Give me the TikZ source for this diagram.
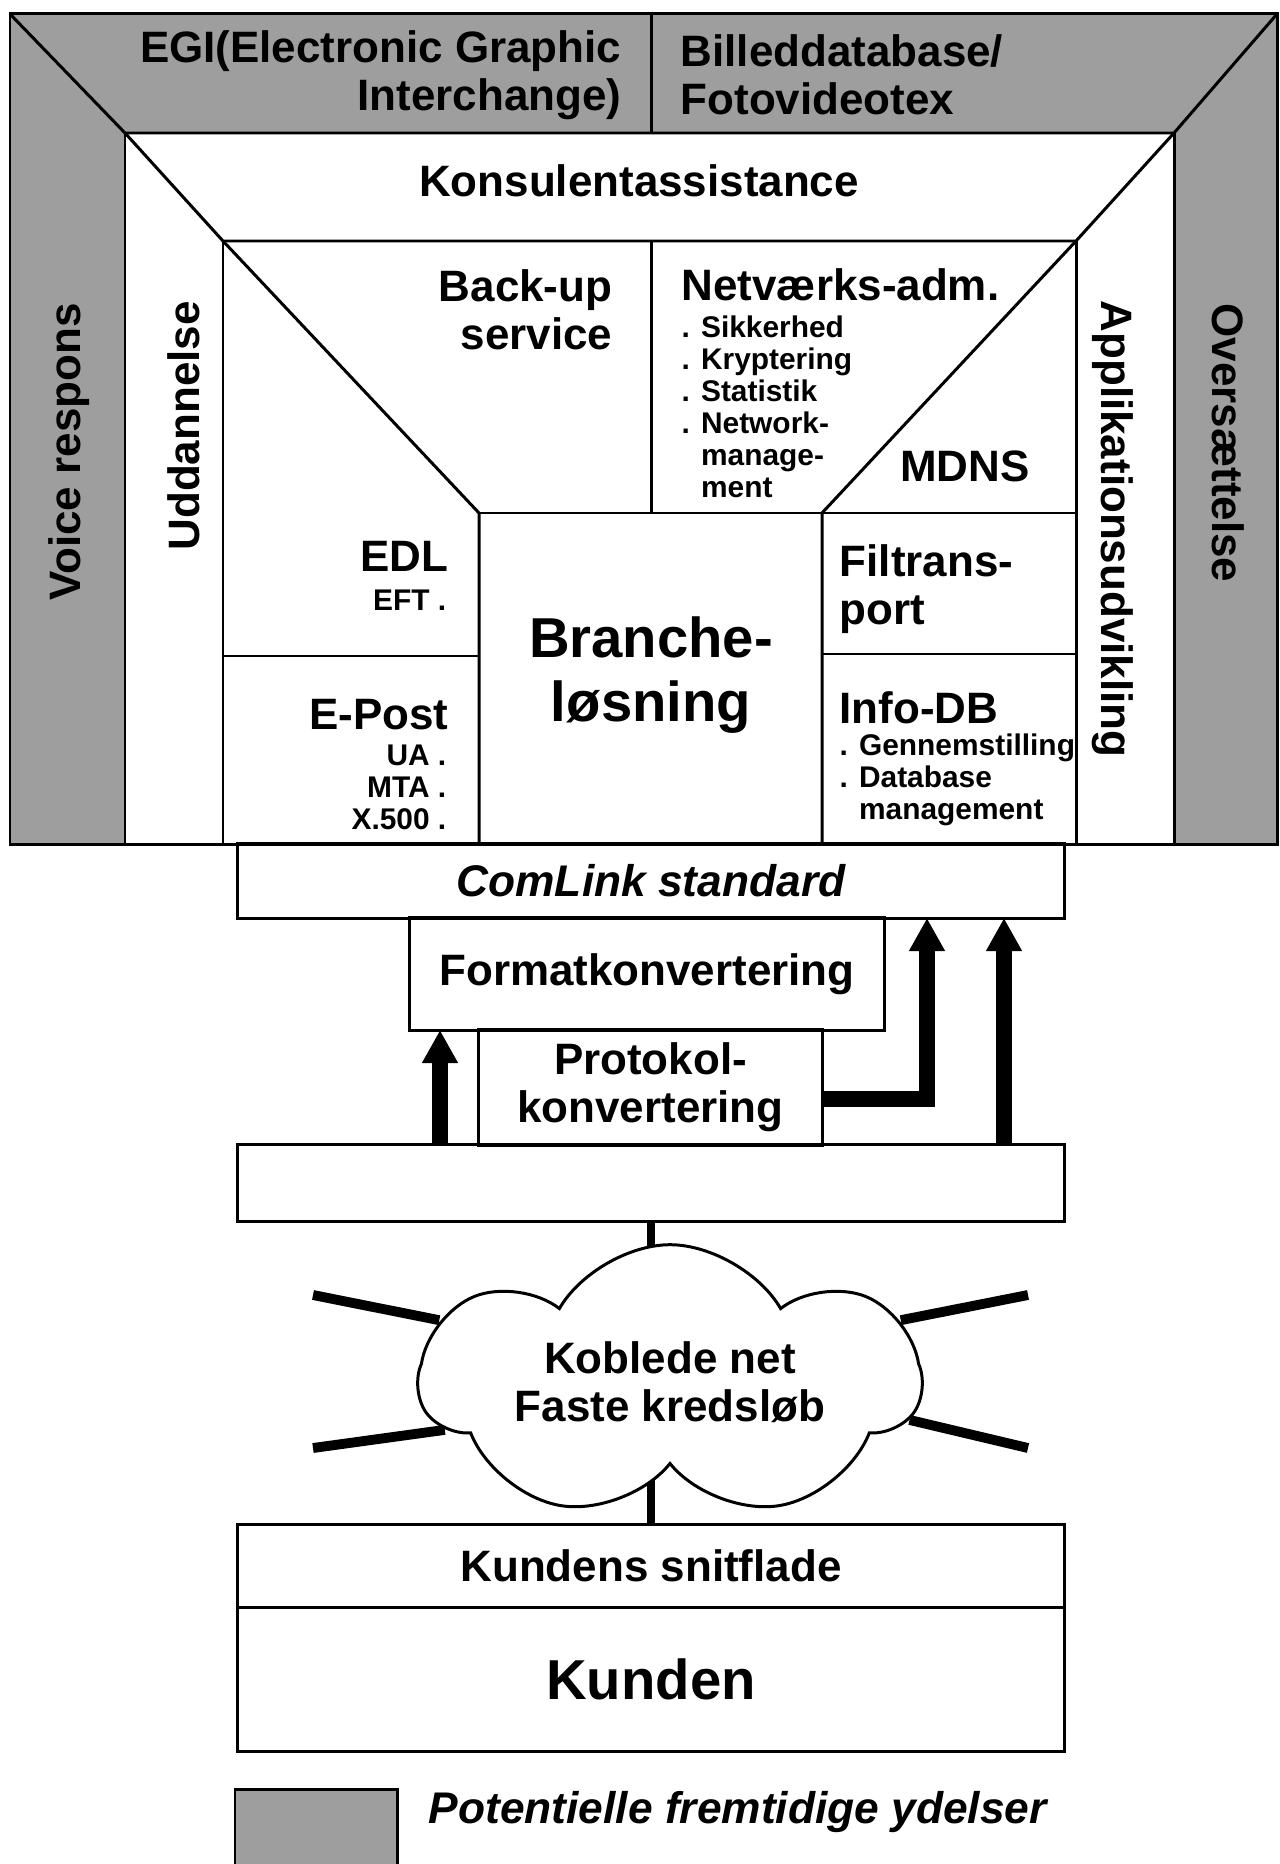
\documentclass[tikz,border=0pt]{standalone}
\usepackage{fontspec}
\setmainfont{Liberation Sans}
\usetikzlibrary{arrows.meta,shapes.symbols,positioning}

\begin{document}
\begin{tikzpicture}[
	x=0.01cm, y=-0.01cm,
	frame/.style={ line width=0.85pt },
	future/.style={ fill=black!38 },
	lbl/.style={ inner sep=0pt, font=\fontsize{12.5}{13.6}\selectfont\bfseries },
	lbli/.style={ lbl, font=\fontsize{12.6}{13.6}\selectfont\bfseries\itshape },
	sub/.style={ inner sep=0pt, align=left, font=\fontsize{8.5}{9.1}\selectfont\bfseries },
	big/.style={ inner sep=0pt, align=center, font=\fontsize{16}{18.2}\selectfont\bfseries },
	box/.style={ draw, line width=0.85pt, inner sep=0pt, outer sep=0pt, minimum width=8.26cm },
	flow/.style={ line width=4.5pt, -{Triangle[width=9.6pt,length=9.4pt]} },
	link/.style={ line width=2.2pt },
	ray/.style={ line width=2.8pt }
]
\useasboundingbox (0,0) rectangle (1280,1864);

% the service frame
\fill[future] (10,14) rectangle (1277,844);
\fill[white] (125,133) rectangle (1174,844);
\draw[frame] (10,14) rectangle (1277,844);
\draw[frame] (10,14) -- (125,133) -- (1174,133) -- (1277,14);
\draw[frame] (125,133) -- (125,844);
\draw[frame] (1174,133) -- (1174,844);
\draw[frame] (651,14) -- (651,133);
\draw[frame] (125,133) -- (223,241) -- (1076,241) -- (1174,133);
\draw[frame] (223,241) -- (223,844);
\draw[frame] (1076,241) -- (1076,844);
\draw[frame] (223,241) -- (479,513) -- (479,844);
\draw[frame] (1076,241) -- (822,513) -- (822,844);
\draw[frame] (651,241) -- (651,513);
\draw[frame] (479,513) -- (1076,513);
\draw[frame] (223,656) -- (479,656);
\draw[frame] (822,654) -- (1076,654);

\node[lbl, anchor=east, align=right] (egi) at (622,75) {EGI(Electronic Graphic\\Interchange)};
\node[lbl, anchor=west, align=left] (billed) at (680,75) {Billeddatabase/\\Fotovideotex};
\node[lbl] (konsulent) at (639,181) {Konsulentassistance};
\node[lbl, rotate=90] (voice) at (69,452) {Voice respons};
\node[lbl, rotate=90] (udd) at (184,426) {Uddannelse};
\node[lbl, rotate=-90] (appl) at (1113,529) {Applikationsudvikling};
\node[lbl, rotate=-90] (overs) at (1228,443) {Oversættelse};

\node[lbl, anchor=east, align=right] (backup) at (613,310) {Back-up\\service};
\node[lbl, anchor=west] (netadm) at (681,285) {Netværks-adm.};
\node[sub, anchor=west] (netlist) at (681,407) {. Sikkerhed\\. Kryptering\\. Statistik\\. Network-\\\phantom{. }manage-\\\phantom{. }ment};
\node[lbl] (mdns) at (965,466) {MDNS};
\node[lbl, anchor=east] (edl) at (449,556) {EDL};
\node[sub, anchor=east, align=right] (eft) at (447,600) {EFT .};
\node[lbl, anchor=east] (epost) at (449,715) {E-Post};
\node[sub, anchor=east, align=right] (mta) at (447,787) {UA .\\MTA .\\X.500 .};
\node[big] (branche) at (651,675) {Branche-\\løsning};
\node[lbl, anchor=west, align=left] (filtrans) at (839,589) {Filtrans-\\port};
\node[lbl, anchor=west] (infodb) at (839,708) {Info-DB};
\node[sub, anchor=west] (infolist) at (839,780) {. Gennemstilling\\. Database\\\phantom{. }management};

% conversion stack
\node[box, minimum height=0.74cm, lbli] (comlink) at (651,881) {ComLink standard};
\node[box, minimum width=4.74cm, minimum height=1.12cm, lbl] (fmt) at (647,974) {Formatkonvertering};
\node[box, minimum width=3.43cm, minimum height=1.15cm, lbl, align=center] (proto) at (650.5,1087.5) {Protokol-\\konvertering};
\node[box, minimum height=0.76cm] (bar) at (651,1183) {};

\coordinate (up1) at (440,0);
\coordinate (up2) at (927,0);
\coordinate (up3) at (1004,0);
\draw[flow] (bar.north -| up1) -- (fmt.south -| up1);
\draw[flow] ([yshift=-3.3pt]proto.east) -| (comlink.south -| up2);
\draw[flow] (bar.north -| up3) -- (comlink.south -| up3);

% customer
\node[box, minimum height=0.82cm, lbl] (snit) at (651,1566) {Kundens snitflade};
\node[box, minimum height=1.44cm, big, below=0pt of snit] (kunde) {Kunden};

\draw[link] (bar.south) -- (snit.north);
\node[cloud, draw, line width=0.85pt, fill=white, cloud puffs=7, cloud puff arc=120, aspect=2.4,
	minimum width=5cm, minimum height=1.75cm, lbl, align=center] (net) at (670,1382) {Koblede net\\Faste kredsløb};

\coordinate (r1) at (313,1295);
\coordinate (r2) at (313,1448);
\coordinate (r3) at (1028,1295);
\coordinate (r4) at (1028,1448);
\draw[ray] (r1) -- (net.165);
\draw[ray] (r2) -- (net.192);
\draw[ray] (r3) -- (net.15);
\draw[ray] (r4) -- (net.-9);

% legend
\draw[frame, future] (235,1789) rectangle (397,1880);
\node[lbli, anchor=west] (legend) at (428,1812) {Potentielle fremtidige ydelser};

\end{tikzpicture}
\end{document}
